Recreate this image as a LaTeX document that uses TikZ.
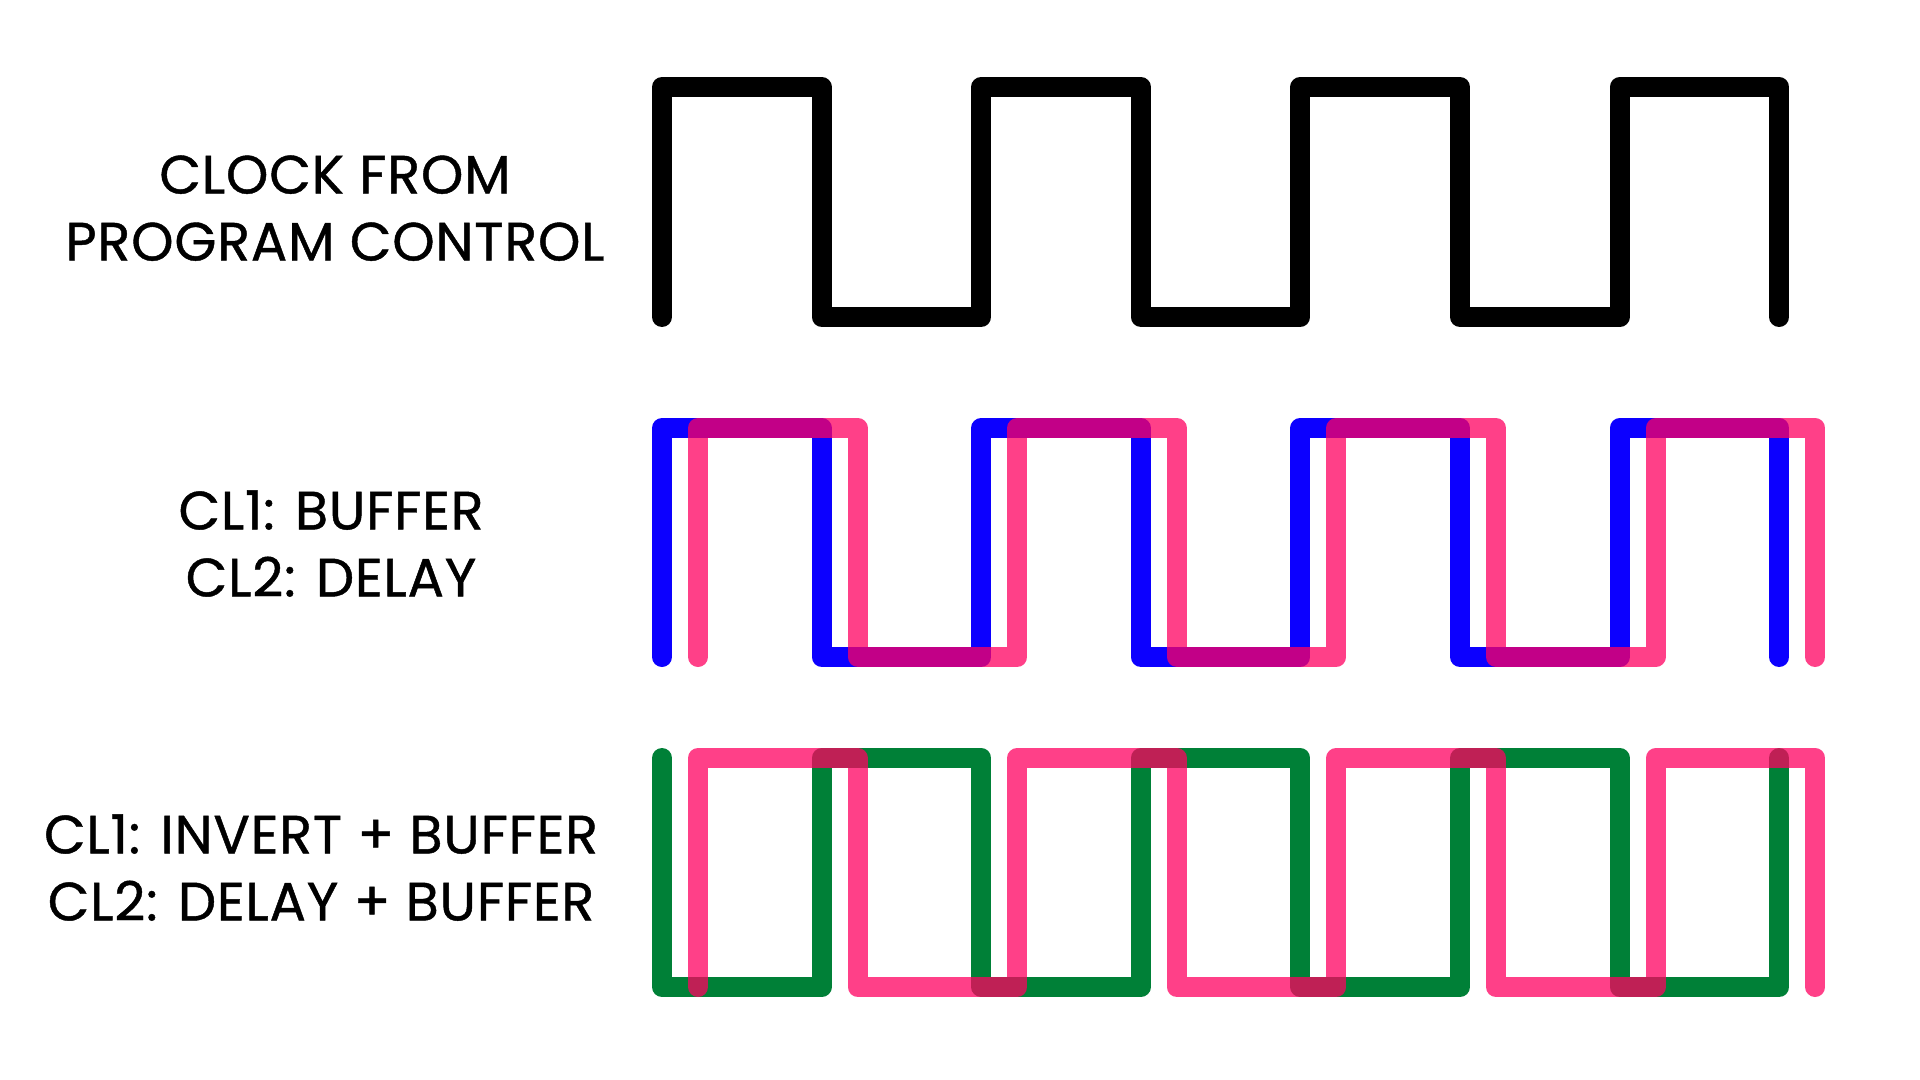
\documentclass[tikz,border=0pt]{standalone}
\usepackage{fontspec}
\setmainfont{Poppins}[FakeBold=0.8,LetterSpace=1.5]
\definecolor{clkblue}{RGB}{12,0,255}
\definecolor{clkpink}{RGB}{255,0,96}
\definecolor{clkgreen}{RGB}{0,128,55}
\def\halfperiod{159.6}
\def\ClockWave#1#2#3#4{%
 \draw[#1] (#2,#3) -- ++(0,#4)
   \foreach \n in {1,2,3} {-- ++(\halfperiod,0) -- ++(0,{-(#4)}) -- ++(\halfperiod,0) -- ++(0,#4)}
   -- ++(\halfperiod,0) -- ++(0,{-(#4)});
}
\begin{document}
\begin{tikzpicture}[x=0.5pt,y=-0.5pt,
  wave/.style={line width=10pt, line cap=round, line join=round},
  label text/.style={align=center, inner sep=0pt, anchor=north,
    font=\fontsize{27}{33.5}\selectfont}]
\useasboundingbox (0,0) rectangle (1920,1080);
% labels
\node (clocklabel) [label text] at (335,155) {CLOCK FROM\\PROGRAM CONTROL};
\node (bufferlabel) [label text] at (331,490) {CL1: BUFFER\\CL2: DELAY};
\node (invertlabel) [label text] at (321,814) {CL1: INVERT + BUFFER\\CL2: DELAY + BUFFER};
% program clock
\ClockWave{wave, black}{662}{317}{-230}
% buffer / delay
\ClockWave{wave, clkblue}{662}{657}{-229}
\ClockWave{wave, clkpink, draw opacity=0.75}{698}{657}{-229}
% invert / delay
\ClockWave{wave, clkgreen}{662}{758}{229}
\ClockWave{wave, clkpink, draw opacity=0.75}{698}{987}{-229}
\end{tikzpicture}
\end{document}
